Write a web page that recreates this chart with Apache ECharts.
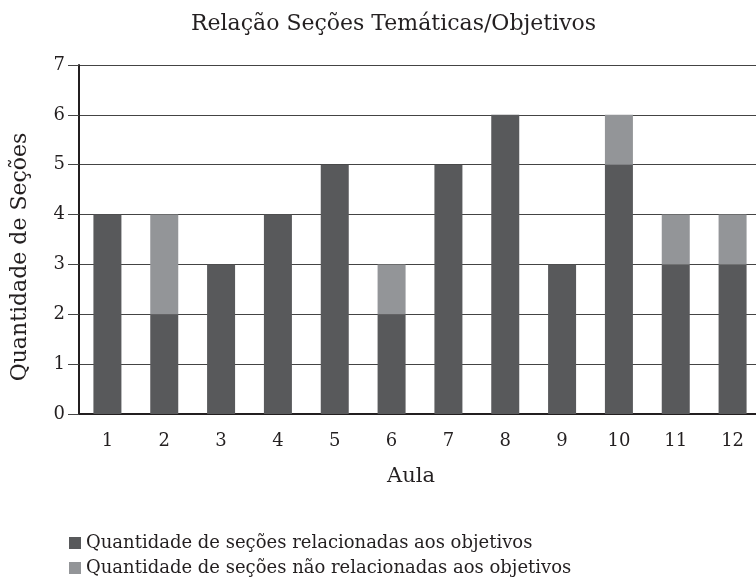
<!DOCTYPE html>
<html>
<head>
<meta charset="UTF-8">
<title>Relação Seções Temáticas/Objetivos</title>
<script src="https://cdn.jsdelivr.net/npm/echarts@6/dist/echarts.min.js"></script>
<style>
  * { margin: 0; padding: 0; }
  #app { width: 756px; height: 579px; background: #fff; }
</style>
</head>
<body>
<div id="app"></div>
<script>
  var aulas = ['1', '2', '3', '4', '5', '6', '7', '8', '9', '10', '11', '12'];
  var relacionadas = [4, 2, 3, 4, 5, 2, 5, 6, 3, 5, 3, 3];
  var naoRelacionadas = [0, 2, 0, 0, 0, 1, 0, 0, 0, 1, 1, 1];
  var nomes = ['Quantidade de seções relacionadas aos objetivos',
               'Quantidade de seções não relacionadas aos objetivos'];

  var fonte = 'DejaVu Serif';
  var chart = echarts.init(document.getElementById('app'));

  chart.setOption({
    animation: false,
    textStyle: { fontFamily: fonte, color: '#231f20' },
    title: {
      text: 'Relação Seções Temáticas/Objetivos',
      left: 186,
      top: 8,
      textStyle: { fontFamily: fonte, fontSize: 22, fontWeight: 'normal', color: '#231f20' }
    },
    legend: {
      orient: 'vertical',
      left: 64,
      top: 529,
      height: 80,
      itemWidth: 12,
      itemHeight: 12,
      itemGap: 7,
      icon: 'rect',
      data: nomes,
      textStyle: { fontFamily: fonte, fontSize: 18, color: '#231f20' }
    },
    grid: { left: 79, top: 65, width: 682, height: 349, outerBoundsMode: 'none' },
    xAxis: {
      type: 'category',
      data: aulas,
      name: 'Aula',
      nameLocation: 'middle',
      nameGap: 52,
      nameTextStyle: { fontFamily: fonte, fontSize: 21, color: '#231f20', padding: [0, 18, 0, 0] },
      axisLine: { lineStyle: { color: '#231f20', width: 2 } },
      axisTick: { length: 13, lineStyle: { color: '#231f20', width: 2 } },
      axisLabel: { margin: 18, fontSize: 18, color: '#231f20', fontFamily: fonte }
    },
    yAxis: {
      type: 'value',
      min: 0,
      max: 7,
      interval: 1,
      name: 'Quantidade de Seções',
      nameLocation: 'middle',
      nameGap: 48,
      nameTextStyle: { fontFamily: fonte, fontSize: 22, color: '#231f20', padding: [0, 35, 0, 0] },
      axisLine: { show: true, lineStyle: { color: '#231f20', width: 2 } },
      axisTick: { show: true, length: 11, lineStyle: { color: '#444', width: 1 } },
      axisLabel: { margin: 14, fontSize: 18, color: '#231f20', fontFamily: fonte },
      splitLine: { lineStyle: { color: '#444', width: 1 } }
    },
    series: [
      {
        name: nomes[0],
        type: 'bar',
        stack: 'total',
        barWidth: 28,
        itemStyle: { color: '#58595b' },
        data: relacionadas
      },
      {
        name: nomes[1],
        type: 'bar',
        stack: 'total',
        barWidth: 28,
        itemStyle: { color: '#939598' },
        data: naoRelacionadas
      }
    ]
  });
</script>
</body>
</html>
